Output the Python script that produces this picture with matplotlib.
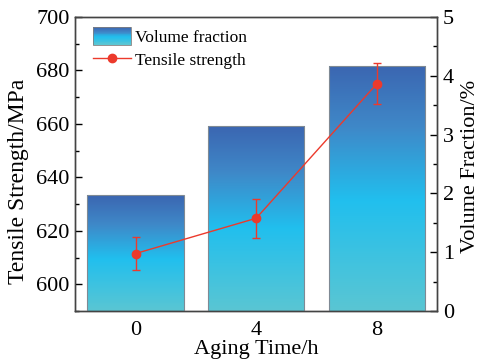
import numpy as np
import matplotlib
matplotlib.use("Agg")
import matplotlib.pyplot as plt
from matplotlib.colors import LinearSegmentedColormap
from matplotlib.patches import Rectangle
from matplotlib.lines import Line2D
from matplotlib.legend_handler import HandlerBase
from matplotlib.ticker import MultipleLocator

plt.rcParams['font.family'] = ['Liberation Serif', 'DejaVu Serif']

# data
aging_time = ["0", "4", "8"]
volume_fraction = [1.97, 3.14, 4.17]          # %
tensile_strength = [611.5, 624.7, 675.0]      # MPa
tensile_err = [6.2, 7.2, 7.7]

red = "#ec3a2c"
grad = LinearSegmentedColormap.from_list(
    "bar", [(0.0, "#5ac6d3"), (0.45, "#21bfee"), (0.75, "#3f88c8"), (1.0, "#3b66b1")])


class GradientHandler(HandlerBase):
    # legend patch drawn as thin stacked strips
    def create_artists(self, legend, orig, xd, yd, w, h, fs, trans):
        n = 20
        arts = []
        for k in range(n):
            arts.append(Rectangle((-xd, -yd + h * k / n), w, h / n + 0.3,
                                  facecolor=grad(k / (n - 1)), edgecolor="none", transform=trans))
        arts.append(Rectangle((-xd, -yd), w, h, facecolor="none", edgecolor="#808080",
                              lw=0.6, transform=trans))
        return arts


fig = plt.figure(figsize=(4.82, 3.6), dpi=100)
ax = fig.add_axes([0.156, 0.136, 0.751, 0.817])
ax2 = ax.twinx()

x = np.arange(len(aging_time))
bw = 0.8

# gradient bars on right axis
bars = ax2.bar(x, volume_fraction, width=bw, facecolor="none", edgecolor="#7f8a94", lw=0.8, zorder=3)
g = np.linspace(0, 1, 256).reshape(-1, 1)
for b in bars:
    bx, by = b.get_x(), b.get_y()
    im = ax2.imshow(g, cmap=grad, origin="lower", aspect="auto",
                    extent=[bx, bx + b.get_width(), by, by + b.get_height()], zorder=2)
    im.set_clip_path(b)
ax2.set_xlim(-0.5, 2.5)
ax2.set_ylim(0, 5)
ax2.yaxis.set_major_locator(MultipleLocator(1))
ax2.yaxis.set_minor_locator(MultipleLocator(0.5))
ax2.set_ylabel("Volume Fraction/%", fontsize=16)
ax2.yaxis.set_label_coords(1.067, 0.49)

# tensile strength on left axis, drawn above bars
ax.set_zorder(ax2.get_zorder() + 1)
ax.patch.set_visible(False)
ax.errorbar(x, tensile_strength, yerr=tensile_err, color=red, lw=1, marker="o", ms=6,
            capsize=3, elinewidth=1, capthick=1)
ax.set_xlim(-0.5, 2.5)
ax.set_ylim(590, 700)
ax.yaxis.set_major_locator(MultipleLocator(20))
ax.yaxis.set_minor_locator(MultipleLocator(10))
ax.set_xticks(x)
ax.set_xticklabels(aging_time)
ax.set_xlabel("Aging Time/h", fontsize=16, labelpad=0)
ax.set_ylabel("Tensile Strength/MPa", fontsize=17)
ax.yaxis.set_label_coords(-0.128, 0.44)

for a in (ax, ax2):
    a.tick_params(axis="y", which="major", direction="in", length=5, width=1, labelsize=16, pad=4)
    a.tick_params(axis="y", which="minor", direction="in", length=3, width=1)
    a.tick_params(axis="x", length=0, labelsize=16, pad=7)
    for s in a.spines.values():
        s.set_color("#444444")
        s.set_linewidth(1)

handles = [Rectangle((0, 0), 1, 1), Line2D([], [], color=red, lw=1, marker="o", ms=6)]
ax.legend(handles, ["Volume fraction", "Tensile strength"], loc="upper left",
          handler_map={Rectangle: GradientHandler()}, frameon=False, fontsize=12.5,
          handlelength=2.2, handleheight=1.2, handletextpad=0.2,
          bbox_to_anchor=(0.02, 1.0), borderaxespad=0.2, labelspacing=0.25)

fig.savefig("out.png", dpi=100)
